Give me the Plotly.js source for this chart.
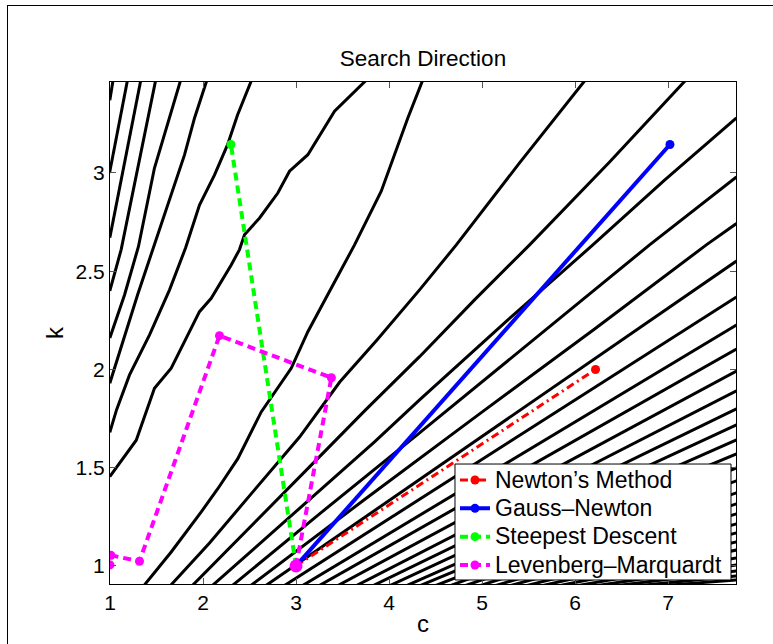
<!DOCTYPE html>
<html><head><meta charset="utf-8">
<script src="https://cdn.plot.ly/plotly-3.0.1.min.js"></script>
<style>
html,body{margin:0;padding:0;background:#fff;overflow:hidden;}
#chart{width:773px;height:644px;}
#frame{position:absolute;left:7px;top:5px;width:800px;height:700px;border-left:1px solid #000;border-top:1px solid #000;pointer-events:none;}
</style></head><body>
<div id="chart"></div><div id="frame"></div>
<script>
// Contour lines of the objective (c values, k values)
const contourC = [
  [1.032, 0.998],
  [1.187, 1.09, 0.995],
  [1.33, 1.167, 0.998],
  [1.49, 1.306, 1.12, 0.998],
  [1.758, 1.478, 1.306, 1.156, 0.998],
  [2.04, 1.909, 1.801, 1.640, 1.478, 1.296, 0.998],
  [2.52, 2.371, 2.263, 2.124, 1.962, 1.812, 1.640, 1.425, 1.210, 1.070, 0.998],
  [3.75, 3.414, 3.127, 2.930, 2.804, 2.608, 2.446, 2.392, 2.303, 2.088, 1.962, 1.837, 1.658, 1.478, 1.370, 1.282, 0.998],
  [1.365, 1.658, 1.981, 2.159, 2.374, 2.626, 2.948, 3.127, 3.378, 3.629, 3.916, 4.202, 4.36],
  [1.65, 2.070, 2.554, 3.038, 3.47, 3.87, 4.328, 4.723, 5.403, 6.105],
  [1.885, 2.5, 3.145, 3.737, 4.328, 4.919, 5.511, 6.371, 7.185],
  [2.10, 2.715, 3.360, 3.844, 4.328, 5.242, 6.191, 6.962, 7.735],
  [2.315, 3.253, 4.328, 5.511, 6.801, 7.735],
  [2.513, 3.737, 4.973, 6.210, 7.411, 7.735],
  [2.675, 7.735],
  [2.875, 7.735],
  [3.07, 7.735],
  [3.25, 7.735],
  [3.45, 7.735],
  [3.65, 7.735],
  [3.83, 7.735],
  [4.01, 7.735],
  [4.19, 7.735],
  [4.335, 7.735],
  [4.50, 7.735],
  [4.66, 7.735],
  [4.82, 7.735],
  [4.98, 7.735],
  [5.145, 7.735],
  [5.305, 7.735],
  [5.48, 7.735],
  [5.65, 7.735],
  [5.835, 7.735],
  [6.03, 7.735],
  [6.235, 7.735],
  [6.45, 7.735],
  [6.69, 7.735],
  [6.95, 7.735]
];
const contourK = [
  [3.47, 3.37],
  [3.47, 3.234, 3.0],
  [3.47, 3.081, 2.67],
  [3.47, 3.041, 2.61, 2.40],
  [3.47, 3.025, 2.626, 2.379, 2.16],
  [3.47, 3.280, 3.092, 2.863, 2.634, 2.379, 1.93],
  [3.47, 3.295, 3.143, 2.990, 2.837, 2.618, 2.405, 2.176, 1.972, 1.794, 1.68],
  [3.47, 3.314, 3.093, 3.009, 2.898, 2.771, 2.686, 2.610, 2.532, 2.362, 2.294, 2.176, 2.006, 1.904, 1.760, 1.640, 1.455],
  [0.90, 1.071, 1.275, 1.393, 1.546, 1.784, 2.006, 2.192, 2.413, 2.634, 2.907, 3.280, 3.47],
  [0.90, 1.117, 1.387, 1.656, 1.936, 2.150, 2.405, 2.634, 3.051, 3.47],
  [0.90, 1.193, 1.504, 1.789, 2.065, 2.354, 2.634, 3.056, 3.47],
  [0.90, 1.158, 1.427, 1.631, 1.845, 2.237, 2.634, 2.964, 3.28],
  [0.90, 1.265, 1.677, 2.135, 2.634, 2.98],
  [0.90, 1.338, 1.774, 2.206, 2.634, 2.743],
  [0.90, 2.552],
  [0.90, 2.369],
  [0.90, 2.226],
  [0.90, 2.104],
  [0.90, 1.992],
  [0.90, 1.891],
  [0.90, 1.799],
  [0.90, 1.718],
  [0.90, 1.641],
  [0.90, 1.570],
  [0.90, 1.499],
  [0.90, 1.433],
  [0.90, 1.372],
  [0.90, 1.316],
  [0.90, 1.265],
  [0.90, 1.214],
  [0.90, 1.168],
  [0.90, 1.122],
  [0.90, 1.081],
  [0.90, 1.041],
  [0.90, 1.005],
  [0.90, 0.975],
  [0.90, 0.949],
  [0.90, 0.929]
];

// Search directions from the start point (c, k)
const newtonC = [3, 6.22];
const newtonK = [1, 2.0];
const gaussC = [3, 7.02];
const gaussK = [1, 3.145];
const steepC = [3, 2.30];
const steepK = [1, 3.145];
const lmC = [3, 3.38, 2.177, 1.317, 1.01, 1.0];
const lmK = [1, 1.958, 2.172, 1.024, 1.054, 1.005];
const startC = [3];
const startK = [1];

const seriesNames = ['Newton\u2019s Method', 'Gauss\u2013Newton', 'Steepest Descent', 'Levenberg\u2013Marquardt'];
const xTicks = [1, 2, 3, 4, 5, 6, 7];
const yTicks = [1, 1.5, 2, 2.5, 3];
const yTickText = ['1', '1.5', '2', '2.5', '3'];

const FONT = 'Liberation Sans, Arial, Helvetica, sans-serif';
const legendName = s => '<span style="font-size:23px">' + s + '</span>';

const traces = contourC.map((c, i) => ({
  x: c, y: contourK[i], type: 'scatter', mode: 'lines',
  line: {color: '#000000', width: 3}, showlegend: false, hoverinfo: 'skip'
}));

traces.push({x: newtonC, y: newtonK, type: 'scatter', mode: 'lines+markers', name: legendName(seriesNames[0]),
  line: {color: '#ff0000', width: 3, dash: '8px,4px,2px,4px'}, marker: {color: '#ff0000', size: 9, symbol: 'circle'}});
traces.push({x: gaussC, y: gaussK, type: 'scatter', mode: 'lines+markers', name: legendName(seriesNames[1]),
  line: {color: '#0000ff', width: 4}, marker: {color: '#0000ff', size: 9, symbol: 'circle'}});
traces.push({x: steepC, y: steepK, type: 'scatter', mode: 'lines+markers', name: legendName(seriesNames[2]),
  line: {color: '#00ff00', width: 4, dash: '8px,5px'}, marker: {color: '#00ff00', size: 9, symbol: 'circle'}});
traces.push({x: lmC, y: lmK, type: 'scatter', mode: 'lines+markers', name: legendName(seriesNames[3]),
  line: {color: '#ff00ff', width: 4, dash: '8px,5px'}, marker: {color: '#ff00ff', size: 9, symbol: 'circle'}});
traces.push({x: startC, y: startK, type: 'scatter', mode: 'markers', showlegend: false,
  marker: {color: '#ff00ff', size: 13, symbol: 'circle'}, hoverinfo: 'skip'});

const axisCommon = {
  showgrid: false, zeroline: false, showline: true, linecolor: '#000', linewidth: 1,
  mirror: 'ticks', ticks: 'inside', ticklen: 6, tickwidth: 1, tickcolor: '#555',
  tickfont: {family: FONT, size: 21, color: '#000'}
};

const layout = {
  width: 773, height: 644,
  margin: {l: 110, r: 37, t: 82, b: 60},
  paper_bgcolor: '#fff', plot_bgcolor: '#fff',
  font: {family: FONT, color: '#000'},
  title: {text: 'Search Direction', font: {family: FONT, size: 22.5, color: '#000'},
    x: 0.5, xref: 'paper', xanchor: 'center', y: 1 - 58 / 644, yref: 'container', yanchor: 'middle'},
  xaxis: Object.assign({}, axisCommon, {range: [1, 7.73], tickvals: xTicks, ticktext: xTicks.map(String),
    title: {text: 'c', font: {family: FONT, size: 24, color: '#000'}, standoff: 1}}),
  yaxis: Object.assign({}, axisCommon, {range: [0.908, 3.463], tickvals: yTicks, ticktext: yTickText,
    title: {text: 'k', font: {family: FONT, size: 24, color: '#000'}, standoff: 5}}),
  shapes: [{type: 'rect', xref: 'paper', yref: 'paper', x0: 0.5511, x1: 0.9920, y0: 0.008, y1: 0.239,
    fillcolor: '#ffffff', line: {color: '#000', width: 1}, layer: 'above'}],
  showlegend: true,
  legend: {x: 0.5511, y: 0.2454, xanchor: 'left', yanchor: 'top', bgcolor: 'rgba(0,0,0,0)',
    borderwidth: 0, font: {family: FONT, size: 19.5, color: '#000'}}
};

Plotly.newPlot('chart', traces, layout, {displayModeBar: false, staticPlot: true});
</script></body></html>
